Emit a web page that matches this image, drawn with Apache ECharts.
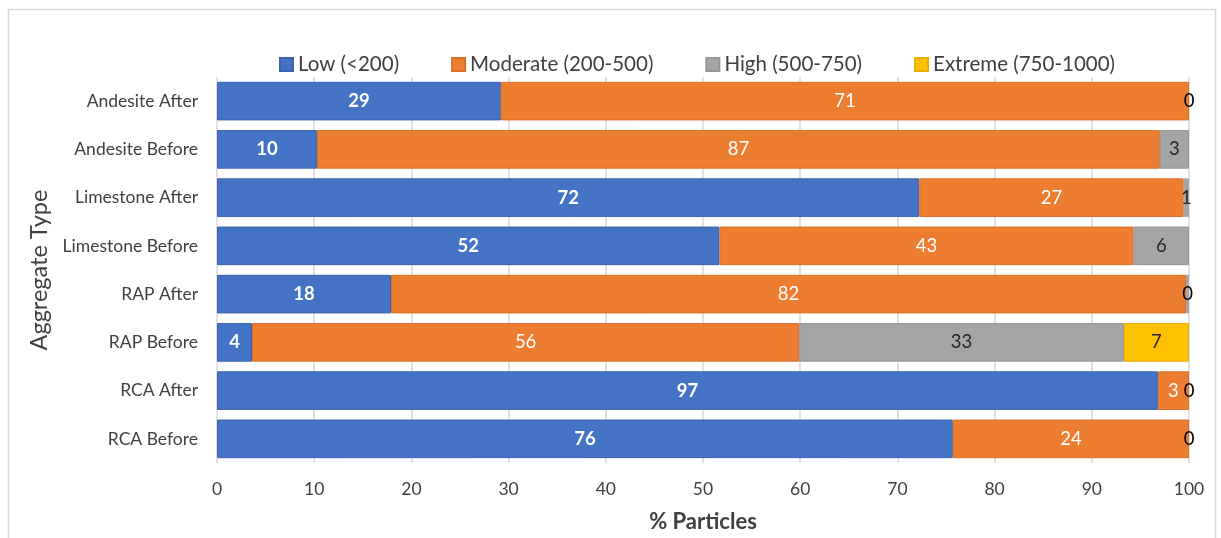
<!DOCTYPE html>
<html><head><meta charset="utf-8">
<script src="https://cdn.jsdelivr.net/npm/echarts@6/dist/echarts.min.js"></script>
<style>html,body{margin:0;padding:0;background:#fff}#c{width:1221px;height:538px}</style>
</head><body><div id="c"></div>
<script>
const categories = ['RCA Before','RCA After','RAP Before','RAP After','Limestone Before','Limestone After','Andesite Before','Andesite After'];
const seriesNames = ['Low (<200)','Moderate (200-500)','High (500-750)','Extreme (750-1000)'];
const low      = [75.7, 96.8, 3.6, 17.9, 51.7, 72.25, 10.3, 29.2];
const moderate = [24.3,  3.2, 56.3, 81.8, 42.6, 27.2, 86.7, 70.8];
const high     = [0,     0,   33.4, 0.3,  5.7,  0.55, 3.0,  0];
const extreme  = [0,     0,    6.7, 0,    0,    0,    0,    0];
const xTicks = { min: 0, max: 100, interval: 10 };

const FONT = 'Lato';
const colors = ['#4472C4','#ED7D31','#A5A5A5','#FFC000'];
const borders = ['#3A62AD','#D96E27','#959595','#E6AD00'];
const labelStyles = [
  {color:'#fff', fontWeight:'bold'},
  {color:'#fff', fontWeight:'normal'},
  {color:'#262626', fontWeight:'normal'},
  {color:'#262626', fontWeight:'normal'}
];
const dataSets = [low, moderate, high, extreme];

function item(v, i) {
  if (v === 0) {
    if (i === 3) return {value: 0, itemStyle: {borderWidth: 0}, label: {show: false}};
    return {value: 0, itemStyle: {borderWidth: 0}, label: {color: '#000'}};
  }
  if (i === 2 && v < 0.5) return {value: v, itemStyle: {borderWidth: 0}, label: {color: '#000'}};
  if (i === 2 && v < 1) return {value: v, itemStyle: {borderWidth: 0}};
  return v;
}

const chart = echarts.init(document.getElementById('c'));
chart.setOption({
  animation: false,
  textStyle: {fontFamily: FONT},
  graphic: [{type:'rect', shape:{x:8.5,y:9.5,width:1207,height:600}, style:{fill:'none', stroke:'#D9D9D9', lineWidth:1.5}, silent:true}],
  legend: {
    top: 49, left: 274, itemWidth: 13, itemHeight: 13, itemGap: 52,
    icon: 'rect',
    textStyle: {fontFamily: FONT, fontSize: 20.5, color: '#404040'},
    data: seriesNames
  },
  grid: {left: 217, right: 32, top: 77, bottom: 74, containLabel: false},
  xAxis: {
    type: 'value', min: xTicks.min, max: xTicks.max, interval: xTicks.interval,
    name: '% Particles', nameLocation: 'middle', nameGap: 48,
    nameTextStyle: {fontFamily: FONT, fontSize: 22, fontWeight: 'bold', color: '#404040'},
    axisLine: {show: false}, axisTick: {show: false},
    axisLabel: {fontFamily: FONT, fontSize: 17.5, color: '#404040', margin: 17},
    splitLine: {show: true, lineStyle: {color: '#D9D9D9', width: 1.5}}
  },
  yAxis: {
    type: 'category', data: categories,
    name: 'Aggregate Type', nameLocation: 'middle', nameGap: 163,
    nameTextStyle: {fontFamily: FONT, fontSize: 23.5, color: '#404040'},
    axisLine: {show: false}, axisTick: {show: false},
    axisLabel: {fontFamily: FONT, fontSize: 17.5, color: '#404040', margin: 19}
  },
  series: dataSets.map((d, i) => ({
    name: seriesNames[i], type: 'bar', stack: 'total',
    data: d.map(v => item(v, i)),
    barCategoryGap: '20%',
    itemStyle: {color: colors[i], borderColor: borders[i], borderWidth: 1},
    label: {
      show: true, position: 'inside', fontFamily: FONT, fontSize: 18.5,
      color: labelStyles[i].color, fontWeight: labelStyles[i].fontWeight,
      formatter: p => String(Math.round(p.value))
    }
  }))
});
</script></body></html>
